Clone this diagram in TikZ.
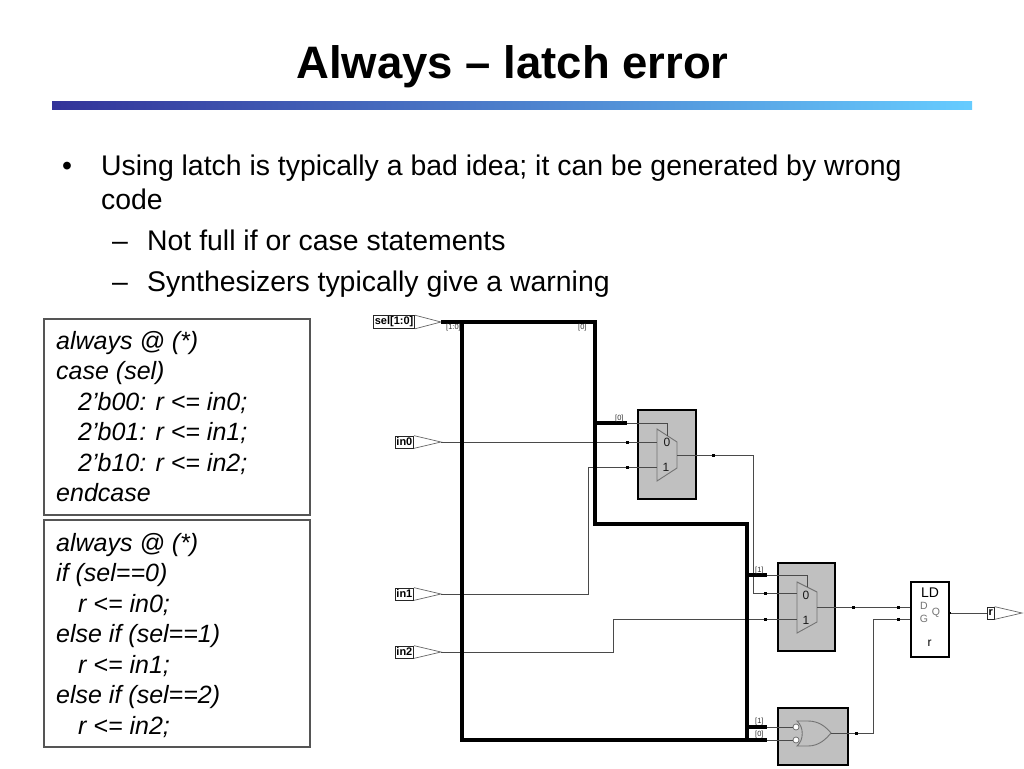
\documentclass[tikz,border=0pt]{standalone}
\usepackage{fontspec}
\setmainfont{Liberation Sans}
\definecolor{wirec}{HTML}{4A4A4A}
\definecolor{blkgray}{HTML}{C0C0C0}
\definecolor{barL}{HTML}{333399}
\definecolor{barR}{HTML}{66CCFF}
\definecolor{codebd}{HTML}{555555}
\begin{document}
\begin{tikzpicture}[x=1pt,y=-1pt,
  wire/.style={draw=wirec, line width=0.9pt},
  busw/.style={draw=black, line width=3.2pt, line join=miter},
  jdot/.style={fill=black, rectangle, minimum size=3pt, inner sep=0pt},
  portbox/.style={draw=black!85, line width=0.7pt, inner sep=1.3pt, font=\bfseries\fontsize{11}{12}\selectfont, minimum height=12pt},
  porttri/.style={draw=black!60, line width=0.7pt},
  blk/.style={draw=black, line width=2pt, fill=blkgray},
  muxshape/.style={draw=black!55, line width=0.9pt},
  bitlbl/.style={font=\fontsize{7.5}{8}\selectfont, text=black!80, inner sep=0pt},
  muxlbl/.style={font=\fontsize{12}{13}\selectfont, text=black!90, inner sep=0pt},
  codebox/.style={draw=codebd, line width=1.1pt},
  codetxt/.style={font=\itshape\fontsize{25}{30}\selectfont, anchor=base west, inner sep=0pt},
  bodytxt/.style={font=\fontsize{28.4}{34}\selectfont, anchor=base west, inner sep=0pt},
]
\useasboundingbox (0,0) rectangle (1024,768);
\fill[white] (0,0) rectangle (1024,768);

% title
\node[font=\bfseries\fontsize{45.5}{50}\selectfont, anchor=base, inner sep=0pt] (title) at (512.5,78) {Always – latch error};
\shade[left color=barL, right color=barR] (52,101) rectangle (972,109);

% bullets
\node[bodytxt] (b1m) at (62,175) {•};
\node[bodytxt] (b1) at (101,175) {Using latch is typically a bad idea; it can be generated by wrong};
\node[bodytxt] (b1c) at (101,209) {code};
\node[bodytxt] (b2m) at (112,250) {–};
\node[bodytxt] (b2) at (147,250) {Not full if or case statements};
\node[bodytxt] (b3m) at (112,291) {–};
\node[bodytxt] (b3) at (147,291) {Synthesizers typically give a warning};

% code boxes
\draw[codebox] (44,319) rectangle (310,515);
\node[codetxt] (c1) at (56,349) {always @ (*)};
\node[codetxt] (c2) at (56,379.5) {case (sel)};
\node[codetxt] (c3) at (78,410) {2’b00: r <= in0;};
\node[codetxt] (c4) at (78,440.5) {2’b01: r <= in1;};
\node[codetxt] (c5) at (78,471) {2’b10: r <= in2;};
\node[codetxt] (c6) at (56,501.5) {endcase};

\draw[codebox] (44,520) rectangle (310,747);
\node[codetxt] (d1) at (56,551) {always @ (*)};
\node[codetxt] (d2) at (56,581.5) {if (sel==0)};
\node[codetxt] (d3) at (78,612) {r <= in0;};
\node[codetxt] (d4) at (56,642.5) {else if (sel==1)};
\node[codetxt] (d5) at (78,673) {r <= in1;};
\node[codetxt] (d6) at (56,703.5) {else if (sel==2)};
\node[codetxt] (d7) at (78,734) {r <= in2;};

% ---------------- schematic ----------------
% blocks
\node[blk, minimum width=58pt, minimum height=89pt, inner sep=0pt] (mux1b) at (667,454.5) {};
\node[blk, minimum width=57pt, minimum height=88pt, inner sep=0pt] (mux2b) at (806.5,607) {};
\node[blk, minimum width=70pt, minimum height=57pt, inner sep=0pt] (gateb) at (813,736.5) {};
\node[draw=black, line width=1.8pt, fill=white, minimum width=38pt, minimum height=75pt, inner sep=0pt] (ld) at (930,619.5) {};

% mux shapes
\draw[muxshape] (657,429) -- (677,442) -- (677,468) -- (657,481) -- cycle;
\draw[muxshape] (797,582) -- (817,592) -- (817,622) -- (797,633) -- cycle;
\node[muxlbl] (m1l0) at (667,442) {0};
\node[muxlbl] (m1l1) at (666,467) {1};
\node[muxlbl] (m2l0) at (806,595) {0};
\node[muxlbl] (m2l1) at (806,620) {1};

% gate (OR with inverted inputs)
\draw[muxshape] (797,721) -- (808,721) .. controls (819,721) and (826,727) .. (831,733)
  .. controls (826,739) and (819,746) .. (808,746) -- (797,746)
  .. controls (804,740) and (804,727) .. (797,721) -- cycle;
\node[draw=black!60, fill=white, circle, minimum size=6pt, inner sep=0pt, line width=0.7pt] (bub1) at (796,727) {};
\node[draw=black!60, fill=white, circle, minimum size=6pt, inner sep=0pt, line width=0.7pt] (bub0) at (796,740) {};

% latch labels
\node[font=\fontsize{14}{15}\selectfont, inner sep=0pt] (ldl) at (930,593) {LD};
\node[font=\fontsize{10.5}{11}\selectfont, text=black!55, inner sep=0pt] (ldd) at (924,606) {D};
\node[font=\fontsize{10.5}{11}\selectfont, text=black!55, inner sep=0pt] (ldg) at (924,619) {G};
\node[font=\fontsize{10.5}{11}\selectfont, text=black!55, inner sep=0pt] (ldq) at (936,613) {Q};
\node[font=\fontsize{12}{13}\selectfont, inner sep=0pt] (ldr) at (929.5,643) {r};

% ports
\node[portbox, anchor=east] (selP) at (415,322) {sel[1:0]};
\coordinate (selT) at (441,322);
\draw[porttri] (selP.north east) -- (selT) -- (selP.south east);
\node[portbox, anchor=east] (in0P) at (414,442) {in0};
\coordinate (in0T) at (441,442);
\draw[porttri] (in0P.north east) -- (in0T) -- (in0P.south east);
\node[portbox, anchor=east] (in1P) at (414,594) {in1};
\coordinate (in1T) at (441,594);
\draw[porttri] (in1P.north east) -- (in1T) -- (in1P.south east);
\node[portbox, anchor=east] (in2P) at (414,652) {in2};
\coordinate (in2T) at (441,652);
\draw[porttri] (in2P.north east) -- (in2T) -- (in2P.south east);
\node[portbox, anchor=west] (rP) at (987,613) {r};
\coordinate (rT) at (1022,613);
\draw[porttri] (rP.north east) -- (rT) -- (rP.south east);

% bus coordinates
\coordinate (bA) at (462,322);
\coordinate (bB) at (595,322);
\coordinate (bC) at (595,524);
\coordinate (bD) at (747,524);
\coordinate (bE) at (747,740);
\coordinate (bF) at (462,740);
\coordinate (s1) at (627,423);
\coordinate (s2) at (767,575);
\coordinate (s3) at (767,727);
\coordinate (s4) at (767,740);

% thin wires
\draw[wire] (in0T) -- (657,442);
\draw[wire] (in1T) -- (588,594) -- (588,467) -- (657,467);
\draw[wire] (in2T) -- (613,652) -- (613,619) -- (797,619);
\draw[wire] (s1) -- (667,423) -- (667,435.5);
\draw[wire] (677,455) -- (753,455) -- (753,593) -- (797,593);
\draw[wire] (s2) -- (807,575) -- (807,587);
\draw[wire] (817,607) -- (ld.west |- 0,607);
\draw[wire] (831,733) -- (873,733) -- (873,619) -- (ld.west |- 0,619);
\draw[wire] (ld.east |- 0,613) -- (rP.west);
\draw[wire] (s3) -- (bub1.west);
\draw[wire] (s4) -- (bub0.west);

% bus
\draw[busw] (selT) -- (bB) -- (bC) -- (bD) -- (bE);
\draw[busw] (bA) -- (bF) -- (bE);
\draw[busw] (595,423) -- (s1);
\draw[busw] (746,575) -- (s2);
\draw[busw] (746,727) -- (s3);
\draw[busw] (bE) -- (s4);

% bit labels
\node[bitlbl, anchor=west] (bl1) at (446,328) {[1:0]};
\node[bitlbl, anchor=west] (bl2) at (578,328) {[0]};
\node[bitlbl, anchor=west] (bl3) at (615,419) {[0]};
\node[bitlbl, anchor=west] (bl4) at (755,571) {[1]};
\node[bitlbl, anchor=west] (bl5) at (755,722) {[1]};
\node[bitlbl, anchor=west] (bl6) at (755,735) {[0]};

% junction dots
\node[jdot] (j1) at (627,442) {};
\node[jdot] (j2) at (627,467) {};
\node[jdot] (j3) at (713,455) {};
\node[jdot] (j4) at (765,593) {};
\node[jdot] (j5) at (765,619) {};
\node[jdot] (j6) at (853,607) {};
\node[jdot] (j7) at (898,607) {};
\node[jdot] (j8) at (898,619) {};
\node[jdot] (j9) at (856,733) {};
\node[jdot, minimum size=2.5pt] (j10) at (949.5,613) {};
\end{tikzpicture}
\end{document}
